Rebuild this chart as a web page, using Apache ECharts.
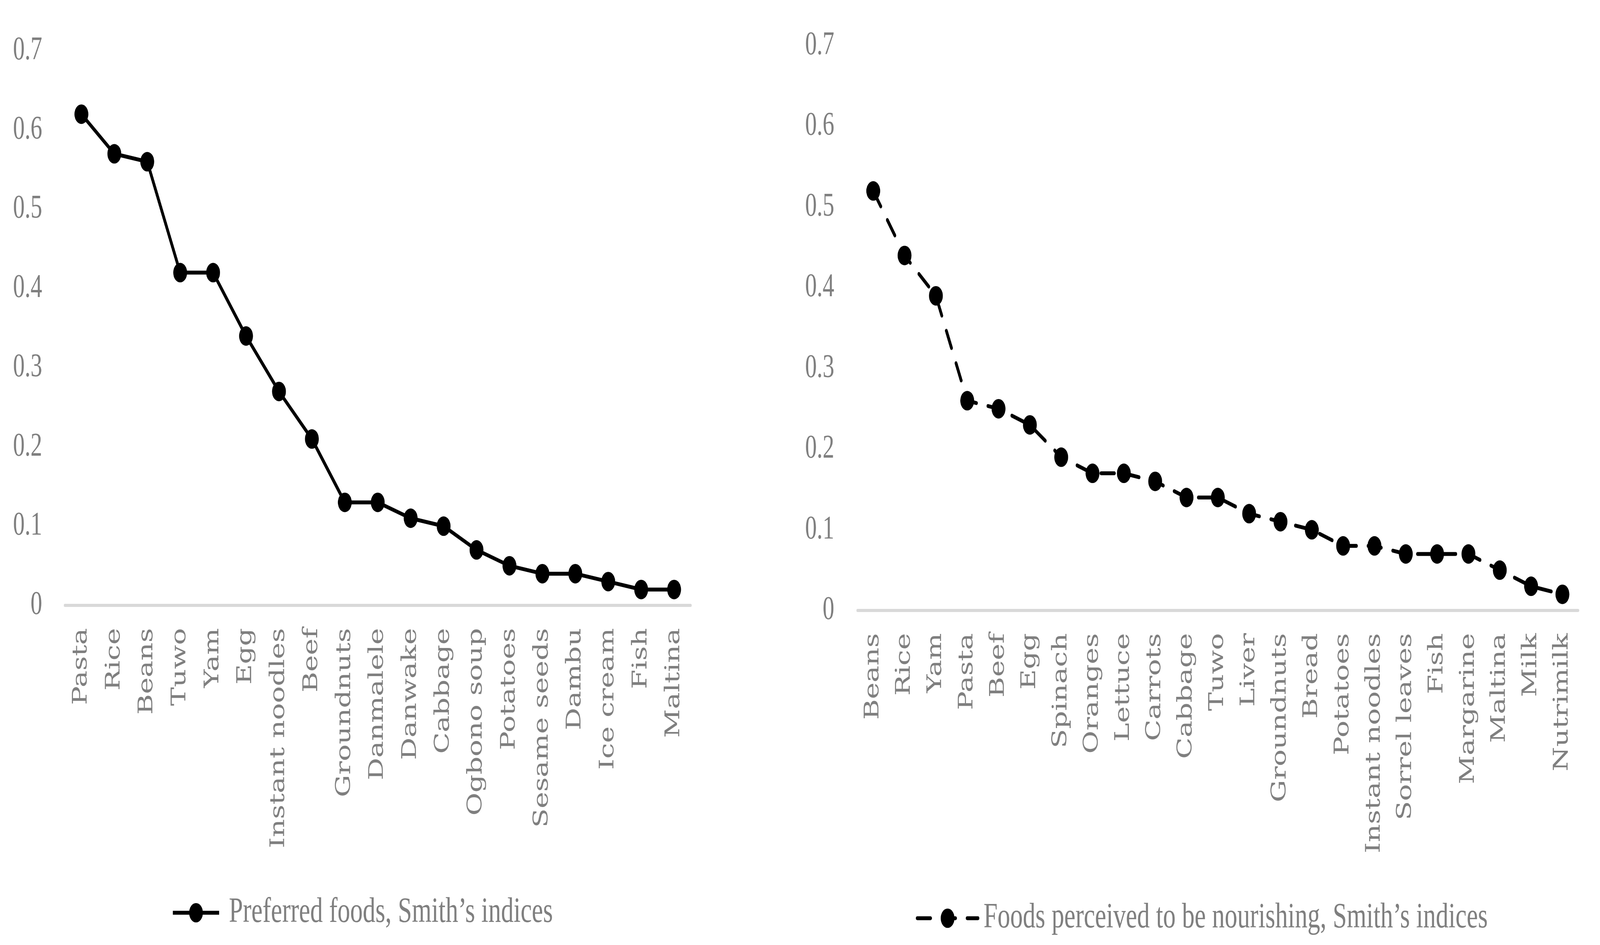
<!DOCTYPE html>
<html>
<head>
<meta charset="utf-8">
<script src="https://cdn.jsdelivr.net/npm/echarts@6/dist/echarts.min.js"></script>
<style>
html,body{margin:0;padding:0;background:#fff;overflow:hidden;}
#chart{position:absolute;left:0;top:0;width:5767px;height:2418px;transform-origin:0 0;}
</style>
</head>
<body>
<div id="chart"></div>
<script>
const leftCategories = ['Pasta','Rice','Beans','Tuwo','Yam','Egg','Instant noodles','Beef','Groundnuts','Danmalele','Danwake','Cabbage','Ogbono soup','Potatoes','Sesame seeds','Dambu','Ice cream','Fish','Maltina'];
const leftValues = [0.62,0.57,0.56,0.42,0.42,0.34,0.27,0.21,0.13,0.13,0.11,0.10,0.07,0.05,0.04,0.04,0.03,0.02,0.02];
const rightCategories = ['Beans','Rice','Yam','Pasta','Beef','Egg','Spinach','Oranges','Lettuce','Carrots','Cabbage','Tuwo','Liver','Groundnuts','Bread','Potatoes','Instant noodles','Sorrel leaves','Fish','Margarine','Maltina','Milk','Nutrimilk'];
const rightValues = [0.52,0.44,0.39,0.26,0.25,0.23,0.19,0.17,0.17,0.16,0.14,0.14,0.12,0.11,0.10,0.08,0.08,0.07,0.07,0.07,0.05,0.03,0.02];
const leftSeriesName = 'Preferred foods, Smith\u2019s indices';
const rightSeriesName = 'Foods perceived to be nourishing, Smith\u2019s indices';
const yMin = 0, yMax = 0.7, yStep = 0.1;

// The design is laid out at 5767x2418; fit it to whatever viewport the browser gives.
const W = window.innerWidth || 5767;
const H = window.innerHeight || 2418;
const el = document.getElementById('chart');
el.style.transform = 'scale(' + (W / 5767) + ',' + (H / 2418) + ')';

const gray = '#7f7f7f';
const tickFont = 'Liberation Serif';
const catFont = 'DejaVu Serif';

function yAxis(gridIndex, margin) {
  return {
    type: 'value', gridIndex: gridIndex, min: yMin, max: yMax, interval: yStep,
    axisLine: {show: false}, axisTick: {show: false}, splitLine: {show: false},
    axisLabel: {color: gray, fontFamily: tickFont, fontSize: 84, margin: margin}
  };
}
function xAxis(gridIndex, cats) {
  return {
    type: 'category', gridIndex: gridIndex, data: cats, boundaryGap: true,
    axisLine: {show: true, lineStyle: {color: '#d9d9d9', width: 8}},
    axisTick: {show: false},
    axisLabel: {color: gray, fontFamily: catFont, fontSize: 72, rotate: 90, interval: 0, margin: 58}
  };
}

const chart = echarts.init(el, null, {renderer: 'canvas', width: 5767, height: 2418});
chart.setOption({
  animation: false,
  backgroundColor: '#ffffff',
  grid: [
    {left: 234, top: 130, width: 2255, height: 1419},
    {left: 3091, top: 117, width: 2597, height: 1445}
  ],
  xAxis: [xAxis(0, leftCategories), xAxis(1, rightCategories)],
  yAxis: [yAxis(0, 82), yAxis(1, 84)],
  legend: [
    {
      data: [leftSeriesName], left: 613, top: 2285, itemWidth: 167, itemHeight: 62,
      lineStyle: {width: 10},
      textStyle: {color: gray, fontFamily: tickFont, fontSize: 91, padding: [0, 0, 0, 30]}
    },
    {
      data: [rightSeriesName], left: 3296, top: 2299, itemWidth: 219, itemHeight: 62,
      lineStyle: {width: 10},
      textStyle: {color: gray, fontFamily: tickFont, fontSize: 91, padding: [0, 0, 0, 15]}
    }
  ],
  series: [
    {
      name: leftSeriesName, type: 'line', xAxisIndex: 0, yAxisIndex: 0, data: leftValues,
      symbol: 'circle', symbolSize: 50, color: '#000',
      itemStyle: {color: '#000'},
      lineStyle: {color: '#000', width: 10}
    },
    {
      name: rightSeriesName, type: 'line', xAxisIndex: 1, yAxisIndex: 1, data: rightValues,
      symbol: 'circle', symbolSize: 50, color: '#000',
      itemStyle: {color: '#000'},
      lineStyle: {color: '#000', width: 10, type: [48, 42], cap: 'round'}
    }
  ]
});
</script>
</body>
</html>
